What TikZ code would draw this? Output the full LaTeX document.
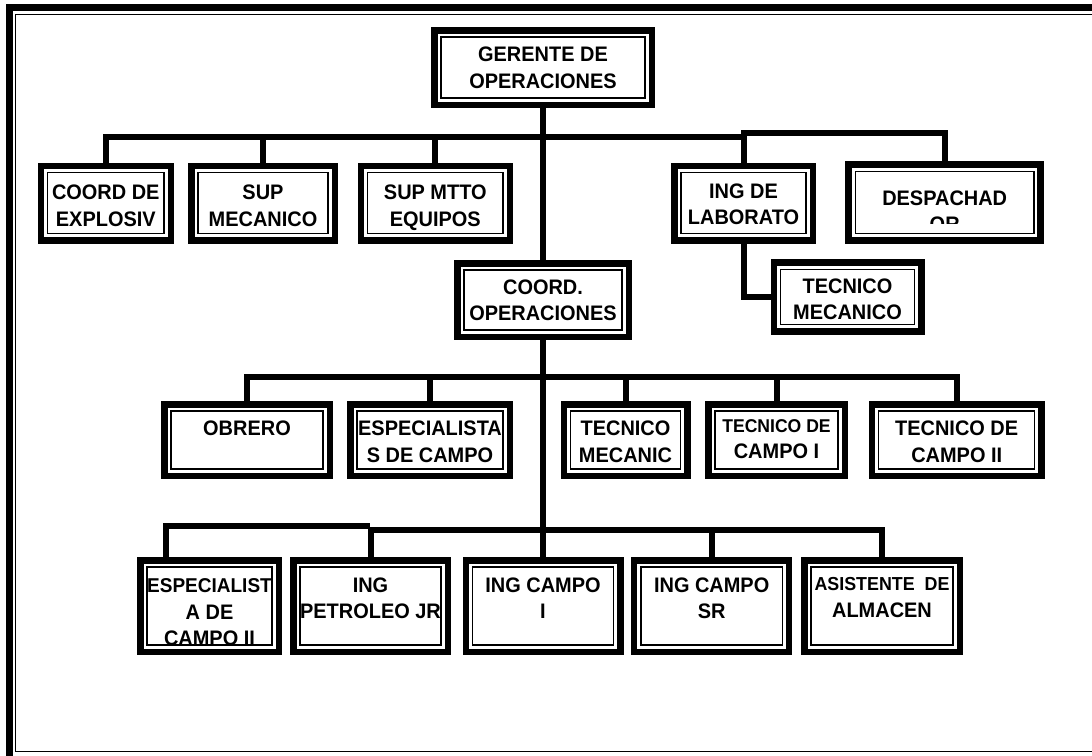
\documentclass[tikz,border=0pt]{standalone}
\usepackage{fontspec}
\setmainfont{Liberation Sans}[FakeStretch=0.95]

% box with a thick outer line and a thin inner line, label clipped to the inner frame
\newcommand{\unitbox}[6][17pt]{%
  \node[unit, minimum width=#4, minimum height=#5] (#2) at (#3) {};
  \begin{scope}
    \clip ([shift={(7.5pt,-7.5pt)}]#2.north west) rectangle ([shift={(-7.5pt,7.5pt)}]#2.south east);
    \node[lbl] (#2-txt) at ([yshift=-#1]#2.north) {#6};
  \end{scope}}

\begin{document}
\begin{tikzpicture}[x=1pt, y=-1pt,
  unit/.style={draw, line width=6.5pt, inner sep=0pt, outer sep=0pt, fill=white,
    path picture={\draw[line width=1.4pt]
      ([shift={(6.8pt,-6.8pt)}]path picture bounding box.north west) rectangle
      ([shift={(-6.8pt,6.8pt)}]path picture bounding box.south east);}},
  lbl/.style={inner sep=0pt, align=center, anchor=north, font=\fontsize{21}{26.5}\selectfont\bfseries},
  wire/.style={line width=6pt, line join=miter}
]
\path[use as bounding box, fill=white] (0,0) rectangle (1092,755);

% page frame
\begin{scope}
  \clip (0,0) rectangle (1092,755);
  \draw[line width=7pt] (9.5,7.5) rectangle (1200,800);
  \draw[line width=1.5pt] (15.3,14.7) rectangle (1200,751.7);
\end{scope}

% top
\unitbox[16.75pt]{ger}{543,67.5}{217.5pt}{74.5pt}{GERENTE DE\\OPERACIONES}

% first row
\unitbox[19pt]{cdexp}{105.8,203}{130pt}{74.5pt}{COORD DE\\EXPLOSIV}
\unitbox[19pt]{supmec}{263,203}{143.5pt}{74.5pt}{SUP\\MECANICO}
\unitbox[19pt]{supmtto}{435.3,203}{149pt}{74.5pt}{SUP MTTO\\EQUIPOS}
\unitbox[17.5pt]{inglab}{743.5,203}{138.5pt}{74.5pt}{ING DE\\LABORATO}
\node[unit, minimum width=192pt, minimum height=76pt] (desp) at (944.7,202.5) {};
\begin{scope}
  \clip ([shift={(7.5pt,-7.5pt)}]desp.north west) rectangle ([shift={(-7.5pt,17.5pt)}]desp.south east);
  \node[lbl] (desp-txt) at ([yshift=-25.75pt]desp.north) {DESPACHAD\\OR};
\end{scope}

% middle
\unitbox[16.3pt]{coordop}{543,300}{171.5pt}{73.5pt}{COORD.\\OPERACIONES}
\unitbox[15.75pt]{tecmec}{847.5,297}{147.5pt}{69pt}{TECNICO\\MECANICO}

% second row
\unitbox[16.75pt]{obrero}{247,440}{165.5pt}{71.5pt}{OBRERO}
\unitbox[16.75pt]{espcampo}{430,440}{159.5pt}{71.5pt}{ESPECIALISTA\\S DE CAMPO\\I}
\unitbox[16.75pt]{tecmec2}{625.5,440}{123.5pt}{71.5pt}{TECNICO\\MECANIC\\O}
\unitbox[14.75pt]{tecc1}{776.5,440}{136.5pt}{71.5pt}{\fontsize{18.5}{26}\selectfont TECNICO DE\\CAMPO I}
\unitbox[16.75pt]{tecc2}{956.7,440}{169.5pt}{71.5pt}{TECNICO DE\\CAMPO II}

% third row
\unitbox[18.5pt]{esp2}{209.5,606}{138.5pt}{91.5pt}{\fontsize{20}{26.5}\selectfont ESPECIALIST\\A DE\\CAMPO II}
\unitbox[17.25pt]{ingpet}{370.5,606}{154.5pt}{91.5pt}{ING\\PETROLEO JR}
\unitbox[17.25pt]{ingc1}{543,606}{154.5pt}{91.5pt}{ING CAMPO\\I}
\unitbox[17.25pt]{ingsr}{711.7,606}{155pt}{91.5pt}{ING CAMPO\\SR}
\unitbox[17.25pt]{asist}{882,606}{155.5pt}{91.5pt}{\fontsize{18.8}{26.5}\selectfont ASISTENTE\ \ DE\\ALMACEN}

% buses
\coordinate (bus1) at (543,137);
\coordinate (busR) at (845,133);
\coordinate (bus2) at (543,377);
\coordinate (bus3) at (543,529.5);
\coordinate (bus3l) at (370,525.5);

\draw[wire] (ger.south) -- (coordop.north);
\draw[wire] (coordop.south) -- (ingc1.north);
\draw[wire] (cdexp.north) |- (bus1);
\draw[wire] (supmec.north) |- (bus1);
\draw[wire] (supmtto.north) |- (bus1);
\draw[wire] (inglab.north) |- (bus1);
\draw[wire] (inglab.north) |- (busR) -| (desp.north);
\draw[wire] (inglab.south) |- (tecmec.west);

\draw[wire] (obrero.north) |- (bus2);
\draw[wire] (espcampo.north) |- (bus2);
\draw[wire] (tecmec2.north) |- (bus2);
\draw[wire] (tecc1.north) |- (bus2);
\draw[wire] (tecc2.north) |- (bus2);

\draw[wire] ([xshift=-43.5pt]esp2.north) |- (bus3l);
\draw[wire] (ingpet.north) |- (bus3);
\draw[wire] (ingsr.north) |- (bus3);
\draw[wire] (asist.north) |- (bus3);
\end{tikzpicture}
\end{document}
